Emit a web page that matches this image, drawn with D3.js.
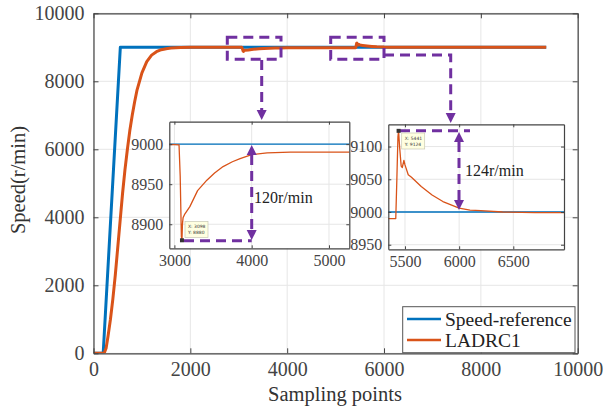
<!DOCTYPE html>
<html>
<head>
<meta charset="utf-8">
<script src="https://cdn.jsdelivr.net/npm/d3@7"></script>
<style>
  body { margin: 0; background: #fff; }
  svg text { font-family: "Liberation Serif", "Times New Roman", serif; }
</style>
</head>
<body>
<svg id="chart"></svg>
<script>
// ---- data ----
let refX = [0, 200, 554, 9350];
let refY = [0, 0, 9000, 9000];

let ladrcX = [0, 220, 260, 300, 350, 400, 450, 500, 550, 600, 650, 700, 750, 800, 850, 900,
  1000, 1100, 1200, 1300, 1400, 1500, 1600, 1800, 2000, 2500, 3000, 3060, 3075, 3090, 3098,
  3104, 3112, 3130, 3200, 3300, 3420, 3520, 3630, 3750, 3850, 4000, 4200, 4500, 5000, 5415,
  5425, 5435, 5441, 5450, 5465, 5475, 5490, 5500, 5530, 5560, 5650, 5750, 5850, 6000, 6100,
  6200, 6400, 6700, 7000, 8000, 9350];
let ladrcY = [0, 0, 150, 500, 1000, 1600, 2300, 3100, 3900, 4700, 5400, 6000, 6550, 7000, 7400, 7750,
  8250, 8580, 8770, 8870, 8930, 8960, 8978, 8992, 8998, 9000, 8999.5, 8999, 8960, 8885, 8880,
  8900, 8908, 8912, 8922, 8942, 8955, 8964, 8972, 8978, 8982, 8987, 8989, 8990, 8990, 8990,
  9050, 9115, 9124, 9100, 9070, 9068, 9079, 9072, 9057, 9053, 9039, 9026, 9016, 9006, 9003,
  9002, 9000, 8999, 8999, 8999.5, 9000];

let mainTicks = [0, 2000, 4000, 6000, 8000, 10000];
let zoom1XTicks = [3000, 4000, 5000];
let zoom1YTicks = [8900, 8950, 9000];
let zoom2XTicks = [5500, 6000, 6500];
let zoom2YTicks = [8950, 9000, 9050, 9100];

let seriesNames = ['Speed-reference', 'LADRC1'];
let colors = ['#0072BD', '#D95319'];
let purple = '#7030A0';

// ---- svg ----
let svgWidth = 603;
let svgHeight = 410;

let svg = d3.select('#chart')
    .attr('width', svgWidth)
    .attr('height', svgHeight);

svg.append('rect').attr('width', svgWidth).attr('height', svgHeight).attr('fill', '#fff');

let refData = refX.map(function(d, i) { return [d, refY[i]]; });
let ladrcData = ladrcX.map(function(d, i) { return [d, ladrcY[i]]; });

// draws one MATLAB-like axes box
function drawPanel(opt) {
    let x = d3.scaleLinear().domain(opt.xDomain).range([opt.left, opt.right]);
    let y = d3.scaleLinear().domain(opt.yDomain).range([opt.bottom, opt.top]);
    let g = svg.append('g');

    g.append('rect')
        .attr('x', opt.left).attr('y', opt.top)
        .attr('width', opt.right - opt.left).attr('height', opt.bottom - opt.top)
        .attr('fill', '#fff');

    // grid
    g.selectAll('.gx').data(opt.xTicks).enter().append('line')
        .attr('x1', function(d) { return x(d); }).attr('x2', function(d) { return x(d); })
        .attr('y1', opt.top).attr('y2', opt.bottom)
        .attr('stroke', '#e6e6e6').attr('stroke-width', 1);
    g.selectAll('.gy').data(opt.yTicks).enter().append('line')
        .attr('y1', function(d) { return y(d); }).attr('y2', function(d) { return y(d); })
        .attr('x1', opt.left).attr('x2', opt.right)
        .attr('stroke', '#e6e6e6').attr('stroke-width', 1);

    // lines
    let clipId = 'clip' + opt.id;
    svg.append('clipPath').attr('id', clipId).append('rect')
        .attr('x', opt.left).attr('y', opt.top)
        .attr('width', opt.right - opt.left).attr('height', opt.bottom - opt.top);

    let line = d3.line()
        .x(function(d) { return x(d[0]); })
        .y(function(d) { return y(d[1]); });

    let lg = g.append('g').attr('clip-path', 'url(#' + clipId + ')');
    [refData, ladrcData].forEach(function(data, i) {
        lg.append('path')
            .attr('d', line(data))
            .attr('fill', 'none')
            .attr('stroke', colors[i])
            .attr('stroke-width', opt.lineWidth)
            .attr('stroke-linejoin', 'round');
    });

    // axes (box with inward ticks on all sides)
    let axisColor = '#444';
    let fmt = d3.format('d');
    let xAxisB = d3.axisBottom(x).tickValues(opt.xTicks).tickFormat(fmt).tickSizeInner(-opt.tick).tickSizeOuter(0).tickPadding(opt.pad + opt.tick);
    let xAxisT = d3.axisTop(x).tickValues(opt.xTicks).tickSizeInner(-opt.tick).tickSizeOuter(0).tickFormat('');
    let yAxisL = d3.axisLeft(y).tickValues(opt.yTicks).tickFormat(fmt).tickSizeInner(-opt.tick).tickSizeOuter(0).tickPadding(opt.pad + opt.tick);
    let yAxisR = d3.axisRight(y).tickValues(opt.yTicks).tickSizeInner(-opt.tick).tickSizeOuter(0).tickFormat('');

    let axes = [
        [xAxisB, 'translate(0,' + opt.bottom + ')'],
        [xAxisT, 'translate(0,' + opt.top + ')'],
        [yAxisL, 'translate(' + opt.left + ',0)'],
        [yAxisR, 'translate(' + opt.right + ',0)']
    ];
    axes.forEach(function(a) {
        let ag = g.append('g').attr('transform', a[1]).call(a[0])
            .attr('font-family', 'Liberation Serif')
            .attr('font-size', opt.fontSize);
        ag.select('.domain').attr('stroke', axisColor).attr('stroke-width', opt.boxWidth);
        ag.selectAll('.tick line').attr('stroke', axisColor);
        ag.selectAll('.tick text').attr('fill', axisColor);
    });
    return { x: x, y: y, g: g };
}

// main axes
let main = drawPanel({
    id: 'main', left: 93.5, right: 577.7, top: 13.3, bottom: 353.3,
    xDomain: [0, 10000], yDomain: [0, 10000],
    xTicks: mainTicks, yTicks: mainTicks,
    lineWidth: 3, tick: 5, pad: 4, fontSize: 20, boxWidth: 1.2
});

// axis labels
svg.append('text')
    .attr('x', 335).attr('y', 401)
    .attr('text-anchor', 'middle')
    .attr('fill', '#333')
    .style('font-size', '20.5px')
    .text('Sampling points');

svg.append('text')
    .attr('transform', 'translate(25,180) rotate(-90)')
    .attr('text-anchor', 'middle')
    .attr('fill', '#333')
    .style('font-size', '20.5px')
    .text('Speed(r/min)');

// dashed selection boxes in main axes
function dashed(sel) {
    return sel.attr('fill', 'none').attr('stroke', purple)
        .attr('stroke-width', 3).attr('stroke-dasharray', '10,6');
}
function arrowHead(px, py, dir) {
    // dir = 1 pointing down, -1 pointing up
    svg.append('path')
        .attr('d', 'M' + (px - 5) + ',' + (py - 10 * dir) + 'L' + (px + 5) + ',' + (py - 10 * dir) + 'L' + px + ',' + py + 'Z')
        .attr('fill', purple);
}

dashed(svg.append('rect').attr('x', 227.3).attr('y', 37.3).attr('width', 53.7).attr('height', 22));
dashed(svg.append('rect').attr('x', 330.7).attr('y', 37.3).attr('width', 53.3).attr('height', 22));
dashed(svg.append('path').attr('d', 'M261.7,60 L261.7,110'));
arrowHead(261.7, 120, 1);
dashed(svg.append('path').attr('d', 'M384,55 L450.7,55 L450.7,113'));
arrowHead(450.7, 123, 1);

// inset 1
let z1 = drawPanel({
    id: 'z1', left: 169.3, right: 349.3, top: 121.7, bottom: 248.3,
    xDomain: [2934, 5263], yDomain: [8870, 9028],
    xTicks: zoom1XTicks, yTicks: zoom1YTicks,
    lineWidth: 1.3, tick: 3, pad: 3, fontSize: 16, boxWidth: 1.2
});

// inset 2
let z2 = drawPanel({
    id: 'z2', left: 388.3, right: 564, top: 124.3, bottom: 249.3,
    xDomain: [5346, 6968], yDomain: [8943, 9134],
    xTicks: zoom2XTicks, yTicks: zoom2YTicks,
    lineWidth: 1.3, tick: 3, pad: 3, fontSize: 16, boxWidth: 1.2
});

// data tips
function dataTip(panel, px, py, bx, by, label) {
    let g = svg.append('g');
    g.append('rect')
        .attr('x', panel.x(px) - 2).attr('y', panel.y(py) - 2)
        .attr('width', 4).attr('height', 4)
        .attr('fill', '#333');
    g.append('rect')
        .attr('x', bx).attr('y', by).attr('width', 23).attr('height', 16)
        .attr('fill', '#ffffe1').attr('stroke', '#c8c8b4').attr('stroke-width', 0.7);
    g.selectAll('.tt').data(label).enter().append('text')
        .attr('x', bx + 3).attr('y', function(d, i) { return by + 6.5 + i * 6; })
        .attr('fill', '#333')
        .style('font-family', '"DejaVu Sans", sans-serif')
        .style('font-size', '4.5px')
        .text(function(d) { return d; });
}

// inset 1 annotations
dashed(svg.append('path').attr('d', 'M184,240.7 L251.7,240.7'));
dashed(svg.append('path').attr('d', 'M251.7,155 L251.7,230'));
arrowHead(251.7, 145, -1);
arrowHead(251.7, 240, 1);
dataTip(z1, 3098, 8880, 185, 221.5, ['X: 3098', 'Y: 8880']);
svg.append('text').attr('x', 254).attr('y', 203)
    .attr('fill', '#222').style('font-size', '16px').text('120r/min');

// inset 2 annotations
dashed(svg.append('path').attr('d', 'M400,130.7 L470,130.7'));
dashed(svg.append('path').attr('d', 'M459,142 L459,200'));
arrowHead(459, 132, -1);
arrowHead(459, 210, 1);
dataTip(z2, 5441, 9124, 401.7, 133, ['X: 5441', 'Y: 9124']);
svg.append('text').attr('x', 465).attr('y', 176)
    .attr('fill', '#222').style('font-size', '16px').text('124r/min');

// legend
let legend = svg.append('g');
legend.append('rect')
    .attr('x', 402.7).attr('y', 306.7).attr('width', 172.3).attr('height', 46)
    .attr('fill', '#fff').attr('stroke', '#555').attr('stroke-width', 1);
legend.selectAll('.ll').data(seriesNames).enter().append('line')
    .attr('x1', 407).attr('x2', 441)
    .attr('y1', function(d, i) { return 319 + i * 21; })
    .attr('y2', function(d, i) { return 319 + i * 21; })
    .attr('stroke', function(d, i) { return colors[i]; })
    .attr('stroke-width', 2.5);
legend.selectAll('.lt').data(seriesNames).enter().append('text')
    .attr('x', 445)
    .attr('y', function(d, i) { return 325.5 + i * 21; })
    .attr('fill', '#222')
    .style('font-size', '19.5px')
    .text(function(d) { return d; });
</script>
</body>
</html>
